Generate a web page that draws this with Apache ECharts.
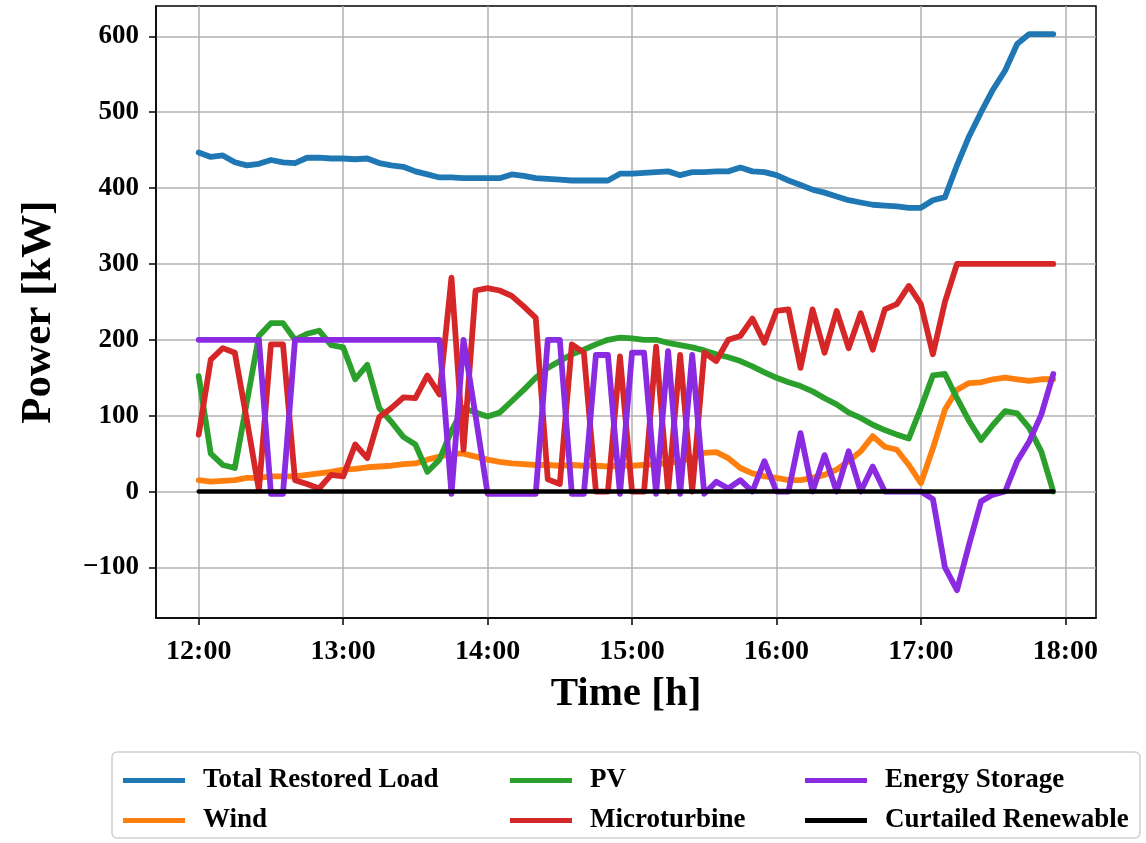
<!DOCTYPE html>
<html>
<head>
<meta charset="utf-8">
<script src="https://cdn.jsdelivr.net/npm/echarts@6/dist/echarts.min.js"></script>
<style>html,body{margin:0;padding:0;background:#fff}#c{width:1146px;height:843px}</style>
</head>
<body>
<div id="c"></div>
<script>
// time in minutes after 12:00, 5-minute steps
const minutes = Array.from({length: 72}, (_, i) => i * 5);
const xTickValues = [0, 60, 120, 180, 240, 300, 360];
const xTickLabels = ['12:00', '13:00', '14:00', '15:00', '16:00', '17:00', '18:00'];
const yTickValues = [-100, 0, 100, 200, 300, 400, 500, 600];
const yTickLabels = ['\u2212100', '0', '100', '200', '300', '400', '500', '600'];

const totalLoad = [447,441,443,434,430,432,437,434,433,440, 440,439,439,438,439,433,430,428,422,418,
  414,414,413,413,413,413,418,416,413,412, 411,410,410,410,410,419,419,420,421,422,
  417,421,421,422,422,427,422,421,417,410, 404,398,394,389,384,381,378,377,376,374,
  374,384,388,430,468,500,530,555,590,603, 603,603];
const wind = [15,13,14,15,18,18,20,20,20,22, 24,26,29,30,32,33,34,36,37,42,
  46,50,50,46,42,39,37,36,35,35, 34,35,34,34,33,34,34,35,36,37,
  40,44,51,52,44,31,24,20,18,15, 15,18,22,29,40,53,73,59,55,35,
  11,57,108,134,143,144,148,150,148,146, 148,148];
const pv = [152,50,35,31,118,205,222,222,200,208, 212,193,190,148,167,110,92,72,62,26,
  42,80,110,104,99,104,119,134,150,163, 172,181,187,194,200,203,202,200,200,196,
  193,190,186,181,177,172,165,157,150,144, 139,132,123,115,104,97,88,81,75,70,
  110,153,155,123,93,68,88,106,103,84, 53,0];
const microturbine = [75,174,189,183,94,2,194,194,15,10, 4,22,20,62,44,98,110,124,123,153,
  128,282,55,265,268,265,258,244,229,16, 10,194,183,0,0,178,0,0,191,0,
  180,0,183,172,200,205,228,196,238,240, 163,240,183,238,189,235,187,240,247,271,
  247,181,250,300,300,300,300,300,300,300, 300,300];
const storage = [200,200,200,200,200,200,-3,-3,200,200, 200,200,200,200,200,200,200,200,200,200,
  200,-3,200,100,-3,-3,-3,-3,-3,200, 200,-3,-3,180,180,-3,183,183,-3,185,
  -3,180,-3,13,4,15,0,40,0,0, 77,0,48,0,53,0,33,0,0,0,
  0,-10,-100,-130,-70,-13,-4,0,40,66, 101,155];
const curtailed = [0,0,0,0,0,0,0,0,0,0, 0,0,0,0,0,0,0,0,0,0,
  0,0,0,0,0,0,0,0,0,0, 0,0,0,0,0,0,0,0,0,0,
  0,0,0,0,0,0,0,0,0,0, 0,0,0,0,0,0,0,0,0,0,
  0,0,0,0,0,0,0,0,0,0, 0,0];

const FONT = '"Liberation Serif", "Times New Roman", serif';
const pairs = arr => minutes.map((t, i) => [t, arr[i]]);
const mk = (name, arr, color, w) => ({
  name, type: 'line', data: pairs(arr), showSymbol: false, symbol: 'none',
  lineStyle: {color, width: w, join: 'round', cap: 'round'}, itemStyle: {color},
  emphasis: {disabled: true}, animation: false
});
const legendBase = {
  orient: 'vertical', icon: 'rect', itemWidth: 62, itemHeight: 5, itemGap: 13,
  top: 762, selectedMode: false,
  textStyle: {fontFamily: FONT, fontWeight: 'bold', fontSize: 27, color: '#000', padding: [0, 0, 0, 13]}
};

const chart = echarts.init(document.getElementById('c'), null, {renderer: 'canvas'});
chart.setOption({
  animation: false,
  backgroundColor: '#fff',
  graphic: [{type: 'rect', z: -10, shape: {x: 112, y: 752, width: 1028, height: 86, r: 5},
    style: {fill: '#fff', stroke: '#cfcfcf', lineWidth: 1.5}}],
  grid: {left: 156, top: 6, width: 940, height: 612, show: true, borderColor: '#000', borderWidth: 1.5},
  legend: [
    Object.assign({}, legendBase, {left: 118, data: ['Total Restored Load', 'Wind']}),
    Object.assign({}, legendBase, {left: 505, data: ['PV', 'Microturbine']}),
    Object.assign({}, legendBase, {left: 800, data: ['Energy Storage', 'Curtailed Renewable']})
  ],
  xAxis: {
    type: 'value', min: -17.75, max: 372.75,
    name: 'Time [h]', nameLocation: 'middle', nameGap: 56,
    nameTextStyle: {fontFamily: FONT, fontWeight: 'bold', fontSize: 41, color: '#000'},
    axisLine: {show: true, onZero: false, lineStyle: {color: '#000', width: 1.5}},
    axisTick: {show: true, inside: false, length: 7, customValues: xTickValues, lineStyle: {color: '#000', width: 1.5}},
    axisLabel: {customValues: xTickValues, margin: 20, fontFamily: FONT, fontWeight: 'bold', fontSize: 28, color: '#000',
      formatter: v => xTickLabels[xTickValues.indexOf(v)]},
    splitLine: {show: true, lineStyle: {color: '#b0b0b0', width: 1.5}}
  },
  yAxis: {
    type: 'value', min: -166.7, max: 640,
    name: 'Power [kW]', nameLocation: 'middle', nameGap: 96,
    nameTextStyle: {fontFamily: FONT, fontWeight: 'bold', fontSize: 43, color: '#000'},
    axisLine: {show: true, onZero: false, lineStyle: {color: '#000', width: 1.5}},
    axisTick: {show: true, inside: false, length: 7, customValues: yTickValues, lineStyle: {color: '#000', width: 1.5}},
    axisLabel: {customValues: yTickValues, margin: 17, fontFamily: FONT, fontWeight: 'bold', fontSize: 27, color: '#000',
      formatter: v => yTickLabels[yTickValues.indexOf(v)]},
    splitLine: {show: true, lineStyle: {color: '#b0b0b0', width: 1.5}}
  },
  series: [
    mk('Total Restored Load', totalLoad, '#1f77b4', 5.8),
    mk('Wind', wind, '#ff7f0e', 5.8),
    mk('PV', pv, '#2ca02c', 5.8),
    mk('Microturbine', microturbine, '#d62728', 5.8),
    mk('Energy Storage', storage, '#8a2be2', 5.8),
    mk('Curtailed Renewable', curtailed, '#000000', 4.5)
  ]
});
</script>
</body>
</html>
